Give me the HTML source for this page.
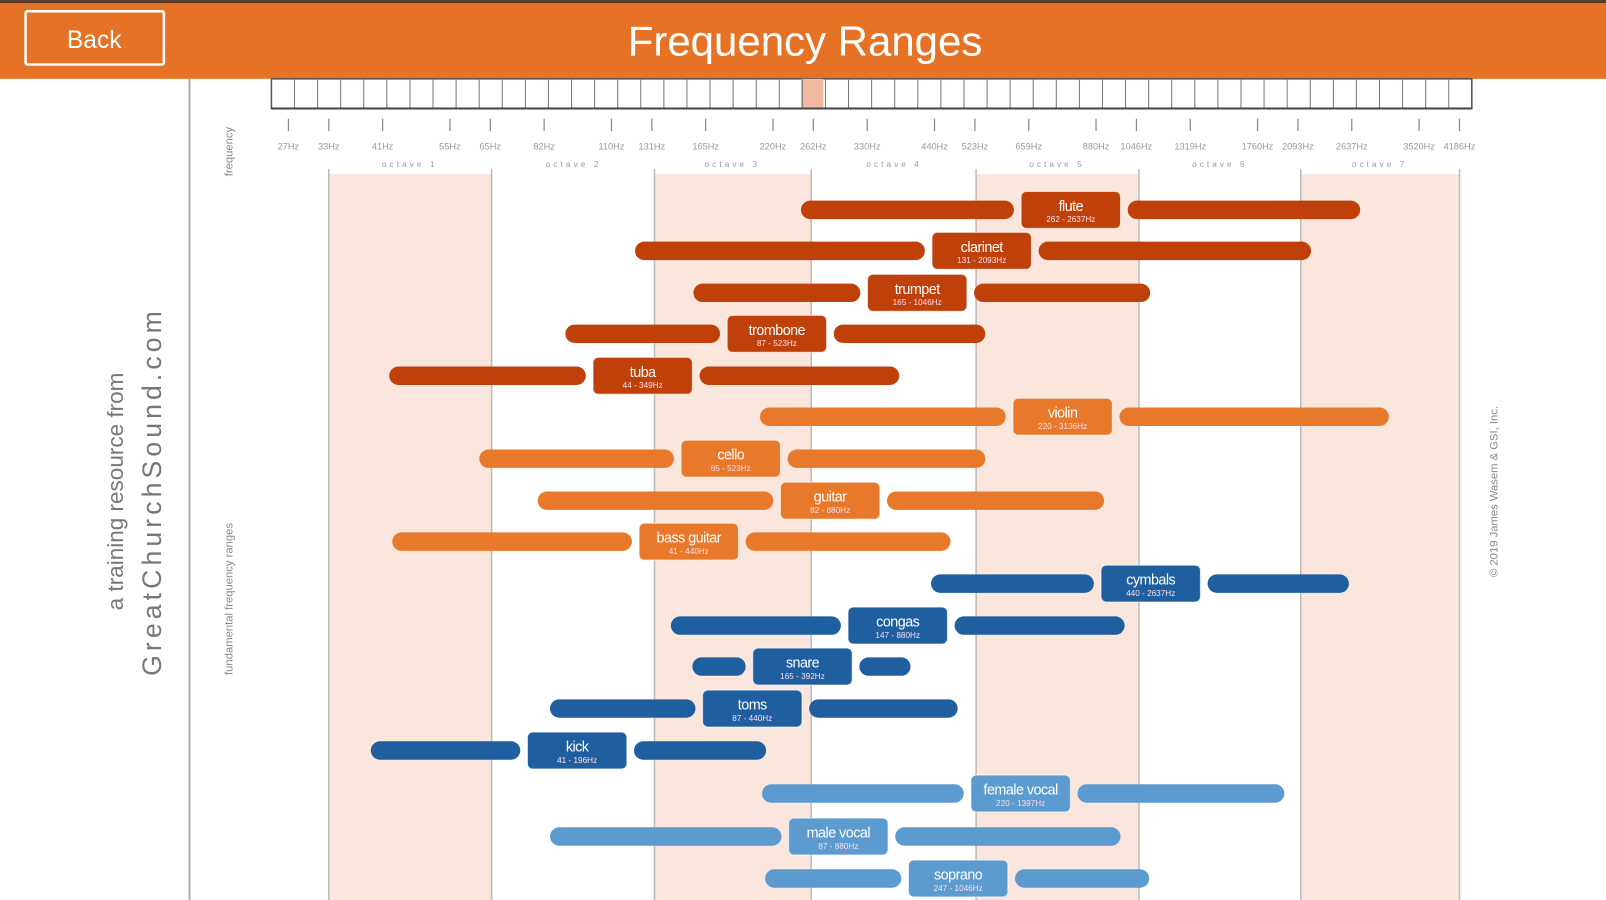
<!DOCTYPE html>
<html><head><meta charset="utf-8"><style>
html,body{margin:0;padding:0;background:#fff;overflow:hidden}
svg{display:block}
text{font-family:"Liberation Sans",sans-serif}
</style></head><body>
<svg width="1606" height="900" viewBox="0 0 1568 879" preserveAspectRatio="none" xmlns="http://www.w3.org/2000/svg">
<rect x="0" y="0" width="1568" height="879" fill="#fff"/>
<g fill="#FAE6DC">
<rect x="321" y="170" width="159" height="709"/>
<rect x="639" y="170" width="153" height="709"/>
<rect x="953" y="170" width="159" height="709"/>
<rect x="1270" y="170" width="155" height="709"/>
</g>
<g stroke="#bbb" stroke-width="1.5">
<line x1="321" y1="165" x2="321" y2="879"/><line x1="480" y1="165" x2="480" y2="879"/>
<line x1="639" y1="165" x2="639" y2="879"/><line x1="792" y1="165" x2="792" y2="879"/>
<line x1="953" y1="165" x2="953" y2="879"/><line x1="1112" y1="165" x2="1112" y2="879"/>
<line x1="1270" y1="165" x2="1270" y2="879"/><line x1="1425" y1="165" x2="1425" y2="879"/>
</g>
<line x1="185" y1="76" x2="185" y2="879" stroke="#aaa" stroke-width="2"/>
<rect x="0" y="0" width="1568" height="77" fill="#E67325"/>
<rect x="0" y="0" width="1568" height="3" fill="#5a3a2a"/>
<rect x="25" y="11" width="135" height="52" fill="none" stroke="#fff" stroke-width="2.5" rx="2"/>
<text x="92" y="47" fill="#fff" font-size="24" text-anchor="middle">Back</text>
<text x="786" y="54" fill="#fff" font-size="41" text-anchor="middle">Frequency Ranges</text>
<rect x="265" y="77" width="1172" height="29" fill="#fff" stroke="#555" stroke-width="1.5"/>
<rect x="782" y="77" width="22" height="29" fill="#F2B9A0"/>
<g id="keys" stroke="#777" stroke-width="1"></g>
<line x1="265" y1="106" x2="1437" y2="106" stroke="#444" stroke-width="2"/>
<g id="ticks"></g>
<g fill="#999" font-size="8" text-anchor="middle" letter-spacing="3">
<text x="400" y="163">octave 1</text><text x="560" y="163">octave 2</text>
<text x="715" y="163">octave 3</text><text x="873" y="163">octave 4</text>
<text x="1032" y="163">octave 5</text><text x="1191" y="163">octave 6</text>
<text x="1347" y="163">octave 7</text>
</g>
<g fill="#888" font-size="11">
<text transform="translate(227,148) rotate(-90)" text-anchor="middle">frequency</text>
<text transform="translate(227,585) rotate(-90)" text-anchor="middle">fundamental frequency ranges</text>
<text transform="translate(1462,480) rotate(-90)" text-anchor="middle">© 2019 James Wasem &amp; GSI, Inc.</text>
</g>
<g fill="#777">
<text transform="translate(120,480) rotate(-90)" text-anchor="middle" font-size="22">a training resource from</text>
<text transform="translate(157,480) rotate(-90)" text-anchor="middle" font-size="26" letter-spacing="4">GreatChurchSound.com</text>
</g>
<g id="bars"></g>
<script>
var ns="http://www.w3.org/2000/svg";
function el(p,t,a,txt){var e=document.createElementNS(ns,t);for(var k in a)e.setAttribute(k,a[k]);if(txt)e.textContent=txt;p.appendChild(e);return e;}
var keys=document.getElementById('keys');
for(var i=1;i<52;i++){var x=265+i*1172/52;el(keys,'line',{x1:x,y1:77,x2:x,y2:106});}
var fr=[[27.5,"27Hz"],[32.7,"33Hz"],[41.2,"41Hz"],[55,"55Hz"],[65.4,"65Hz"],[82.4,"82Hz"],[110,"110Hz"],[130.8,"131Hz"],[164.8,"165Hz"],[220,"220Hz"],[261.6,"262Hz"],[329.6,"330Hz"],[440,"440Hz"],[523.3,"523Hz"],[659.3,"659Hz"],[880,"880Hz"],[1046.5,"1046Hz"],[1318.5,"1319Hz"],[1760,"1760Hz"],[2093,"2093Hz"],[2637,"2637Hz"],[3520,"3520Hz"],[4186,"4186Hz"]];
var tk=document.getElementById('ticks');
fr.forEach(function(f){var x=321+157.7*Math.log2(f[0]/32.7);el(tk,'line',{x1:x,y1:116,x2:x,y2:128,stroke:'#888','stroke-width':1.2});el(tk,'text',{x:x,y:146,'font-size':9,fill:'#999','text-anchor':'middle'},f[1]);});
var D="#C0400A",O="#E8782A",B="#1F5FA0",L="#5B9BD0";
var bars=[["flute","262 - 2637Hz",782,1328,205,997,D],["clarinet","131 - 2093Hz",620,1280,245,910,D],["trumpet","165 - 1046Hz",677,1123,286,847,D],["trombone","87 - 523Hz",552,962,326,710,D],["tuba","44 - 349Hz",380,878,367,579,D],
["violin","220 - 3136Hz",742,1356,407,989,O],["cello","65 - 523Hz",468,962,448,665,O],["guitar","82 - 880Hz",525,1078,489,762,O],["bass guitar","41 - 440Hz",383,928,529,624,O],
["cymbals","440 - 2637Hz",909,1317,570,1075,B],["congas","147 - 880Hz",655,1098,611,828,B],["snare","165 - 392Hz",676,889,651,735,B],["toms","87 - 440Hz",537,935,692,686,B],["kick","41 - 196Hz",362,748,733,515,B],
["female vocal","220 - 1397Hz",744,1254,775,948,L],["male vocal","87 - 880Hz",537,1094,817,770,L],["soprano","247 - 1046Hz",747,1122,858,887,L]];
var g=document.getElementById('bars');
bars.forEach(function(b){var c=b[6],y=b[4],bx=b[5],bw=97;
el(g,'rect',{x:b[2],y:y-9,width:bx-7-b[2],height:18,rx:9,fill:c});
el(g,'rect',{x:bx+bw+7,y:y-9,width:b[3]-(bx+bw+7),height:18,rx:9,fill:c});
el(g,'rect',{x:bx,y:y-18,width:bw,height:36,rx:5,fill:c,stroke:'rgba(255,255,255,0.6)','stroke-width':1});
el(g,'text',{x:bx+bw/2,y:y+1,'font-size':14,fill:'#fff','text-anchor':'middle','letter-spacing':'-0.5'},b[0]);
el(g,'text',{x:bx+bw/2,y:y+12,'font-size':8,fill:'#fde','text-anchor':'middle','font-family':'Liberation Mono, monospace'},b[1]);});
</script>
</svg>
</body></html>
